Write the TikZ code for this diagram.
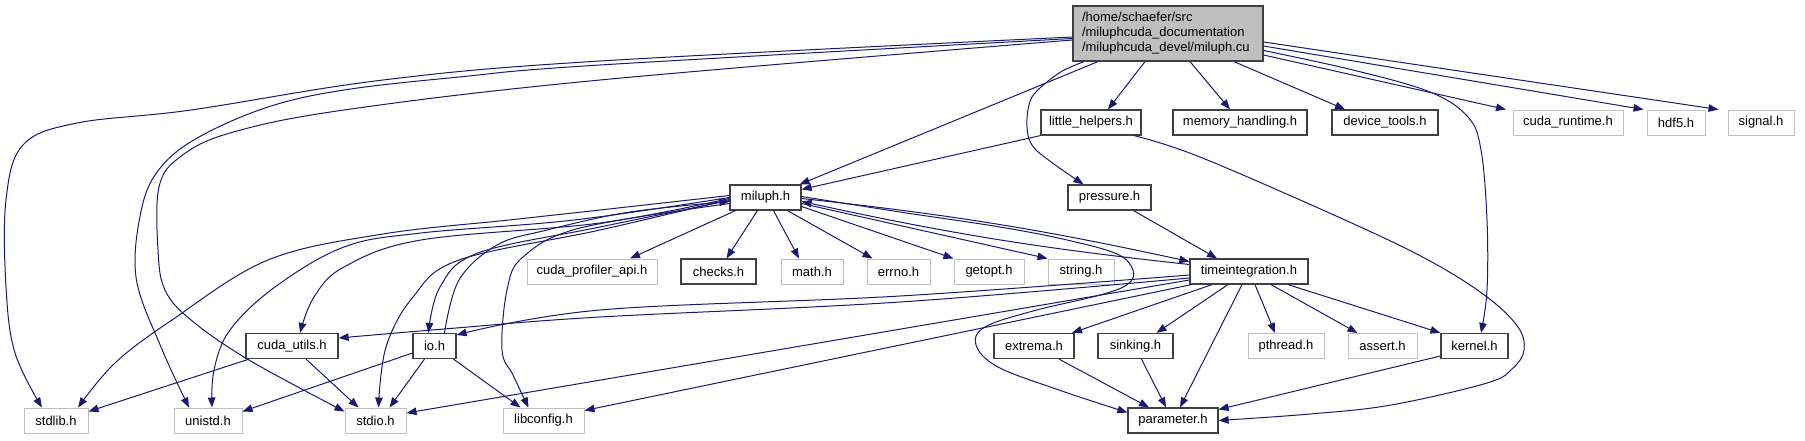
\documentclass[tikz,border=0pt]{standalone}
\usepackage{fontspec}
\setmainfont{Liberation Sans}
\usetikzlibrary{arrows.meta}
\definecolor{edgeblue}{HTML}{191970}
\definecolor{rootgray}{HTML}{BFBFBF}
\definecolor{boxline}{HTML}{404040}
\definecolor{sysline}{HTML}{C0C0C0}
\tikzset{
  hdr/.style={draw=boxline, line width=1.2pt, fill=white, minimum height=25pt, inner sep=0pt, font=\fontsize{13}{15}\selectfont},
  sysh/.style={hdr, draw=sysline, line width=1pt},
  inc/.style={-{Triangle[length=10pt,width=7.5pt]}, line width=1pt, draw=edgeblue},
}

\begin{document}
\begin{tikzpicture}[x=1pt, y=-1pt]
  \useasboundingbox (0,0) rectangle (1805,440);
  % source file
  \node[hdr, fill=rootgray, minimum width=190pt, minimum height=55pt, text width=172pt, inner xsep=9pt, align=left] (root) at (1168,33.5)
    {/home/schaefer/src\\/miluphcuda\_documentation\\/miluphcuda\_devel/miluph.cu};
  % first row
  \node[hdr, minimum width=100pt] (little) at (1091,122.5) {little\_helpers.h};
  \node[hdr, minimum width=134pt] (memory) at (1240,122.5) {memory\_handling.h};
  \node[hdr, minimum width=106pt] (device) at (1385,122.5) {device\_tools.h};
  \node[sysh, minimum width=110pt] (cudart) at (1568,122.5) {cuda\_runtime.h};
  \node[sysh, minimum width=58pt] (hdf) at (1676,122.5) {hdf5.h};
  \node[sysh, minimum width=66pt] (signal) at (1761,122.5) {signal.h};
  % second row
  \node[hdr, minimum width=71pt] (miluph) at (765.5,197.5) {miluph.h};
  \node[hdr, minimum width=83pt] (pressure) at (1109.5,197.5) {pressure.h};
  % third row
  \node[sysh, minimum width=130pt] (cudaprof) at (592,271.5) {cuda\_profiler\_api.h};
  \node[hdr, minimum width=75pt] (checks) at (718.5,271.5) {checks.h};
  \node[sysh, minimum width=62pt] (math) at (812,271.5) {math.h};
  \node[sysh, minimum width=63pt] (errno) at (898.5,271.5) {errno.h};
  \node[sysh, minimum width=70pt] (getopt) at (989,271.5) {getopt.h};
  \node[sysh, minimum width=66pt] (string) at (1081,271.5) {string.h};
  \node[hdr, minimum width=118pt] (timeint) at (1249,271.5) {timeintegration.h};
  % fourth row
  \node[hdr, minimum width=92pt] (cudautils) at (292,346) {cuda\_utils.h};
  \node[hdr, minimum width=43pt] (io) at (434.5,346) {io.h};
  \node[hdr, minimum width=80pt] (extrema) at (1034,346) {extrema.h};
  \node[hdr, minimum width=75pt] (sinking) at (1135.5,346) {sinking.h};
  \node[sysh, minimum width=76pt] (pthread) at (1286,346) {pthread.h};
  \node[sysh, minimum width=69pt] (assert) at (1382.5,346) {assert.h};
  \node[hdr, minimum width=67pt] (kernel) at (1474.5,346) {kernel.h};
  % bottom row
  \node[sysh, minimum width=64pt] (stdlib) at (56,420.5) {stdlib.h};
  \node[sysh, minimum width=68pt] (unistd) at (208,420.5) {unistd.h};
  \node[sysh, minimum width=61pt] (stdio) at (375.5,420.5) {stdio.h};
  \node[sysh, minimum width=81pt] (libconfig) at (543.5,420.5) {libconfig.h};
  \node[hdr, minimum width=90pt] (parameter) at (1173,420.5) {parameter.h};

  % includes of miluph.cu
  \draw[inc] plot[smooth, tension=0.6] coordinates {([yshift=-3.5pt]root.west) (600,61) (383,80) (191,110) (77,123) (23,145) (6,200) (6,287) (15,353) ([xshift=-14pt]stdlib.north)};
  \draw[inc] plot[smooth, tension=0.6] coordinates {([yshift=-5pt]root.west) (600,65) (459,77) (344,90) (268,107) (199,137) (161,167) (142,207) (136,277) (161,347) ([xshift=-19pt]unistd.north)};
  \draw[inc] plot[smooth, tension=0.6] coordinates {([yshift=-6.5pt]root.west) (600,80) (344,110) (230,133) (180,157) (159,187) (158,250) (165,290) (191,320) (249,360) ([yshift=9pt]stdio.west)};
  \draw[inc] ([xshift=-70pt]root.south) -- ([xshift=-2pt]miluph.north east);
  \draw[inc] plot[smooth] coordinates {([xshift=-84pt]root.south) (1059,73) (1032,97) (1027,127) (1036,150) ([xshift=-26pt]pressure.north)};
  \draw[inc] ([xshift=-23pt]root.south) -- ([xshift=17pt]little.north);
  \draw[inc] ([xshift=22pt]root.south) -- ([xshift=-10pt]memory.north);
  \draw[inc] ([xshift=66pt]root.south) -- ([xshift=-40pt]device.north);
  \draw[inc] ([yshift=-21.5pt]root.east) -- ([xshift=-62pt]cudart.north);
  \draw[inc] ([yshift=-12.5pt]root.east) -- ([xshift=-3pt]hdf.north west);
  \draw[inc] ([yshift=-8.5pt]root.east) -- ([xshift=-9pt]signal.north west);
  \draw[inc] plot[smooth, tension=0.6] coordinates {([yshift=-17pt]root.east) (1353,70) (1430,92) (1468,117) (1481,150) (1487,220) (1487,290) ([xshift=6.5pt]kernel.north)};

  % little_helpers.h and pressure.h
  \draw[inc] (little.south west) -- ([yshift=-5pt]miluph.north east);
  \draw[inc] plot[smooth, tension=0.6] coordinates {([xshift=43pt]little.south) (1200,157) (1345,220) (1430,261) (1487,297) (1518,327) (1524,350) (1513,368) (1487,383) (1391,405) (1310,414) (parameter.east)};
  \draw[inc] ([xshift=24pt]pressure.south) -- ([xshift=-32pt]timeint.north);

  % miluph.h
  \draw[inc] ([xshift=-30pt]miluph.south) -- ([xshift=38pt]cudaprof.north);
  \draw[inc] ([xshift=-8pt]miluph.south) -- ([xshift=8pt]checks.north);
  \draw[inc] ([xshift=8pt]miluph.south) -- ([xshift=-13pt]math.north);
  \draw[inc] ([xshift=22pt]miluph.south) -- ([xshift=-26pt]errno.north);
  \draw[inc] ([yshift=-9pt]miluph.east) -- (getopt.north west);
  \draw[inc] ([yshift=-6pt]miluph.east) -- (string.north west);
  \draw[inc] ([yshift=-1pt]miluph.east) to[bend left=3] ([yshift=10pt]timeint.west);
  \draw[inc] ([yshift=7pt]timeint.west) to[bend left=3] ([yshift=-4pt]miluph.east);
  \draw[inc] plot[smooth, tension=0.6] coordinates {([yshift=1pt]miluph.east) (900,212) (1000,227) (1067,240) (1117,254) (1133,270) (1128,284) (1100,295) (1033,311) (985,327) (976,345) (998,367) (1059,390) ([yshift=8pt]parameter.west)};
  \draw[inc] plot[smooth, tension=0.6] coordinates {([yshift=2pt]miluph.west) (600,210) (509,220) (383,234) (268,260) (172,320) (115,363) ([xshift=22pt]stdlib.north)};
  \draw[inc] plot[smooth, tension=0.6] coordinates {([yshift=0pt]miluph.west) (574,220) (421,233) (344,247) (275,287) (230,330) (214,370) ([xshift=4pt]unistd.north)};
  \draw[inc] plot[smooth, tension=0.6] coordinates {([yshift=-1pt]miluph.west) (600,223) (421,240) (344,267) (314,297) ([xshift=8pt]cudautils.north)};
  \draw[inc] plot[smooth, tension=0.6] coordinates {([yshift=-2pt]miluph.west) (600,230) (459,260) (413,297) (386,347) ([xshift=3pt]stdio.north)};
  \draw[inc] plot[smooth, tension=0.6] coordinates {([yshift=-3pt]miluph.west) (600,227) (478,253) (440,287) ([xshift=-6pt]io.north)};
  \draw[inc] plot[smooth, tension=0.6] coordinates {([yshift=-6pt]miluph.west) (580,228) (523,257) (507,290) (502,350) (513,375) ([xshift=-15pt]libconfig.north)};
  \draw[inc] plot[smooth, tension=0.6] coordinates {([xshift=10pt]io.north) (459,280) (497,245) (547,230) (630,212) ([yshift=-4pt]miluph.west)};

  % timeintegration.h
  \draw[inc] plot[smooth, tension=0.6] coordinates {([yshift=-3.5pt]timeint.west) (900,296) (600,310) ([yshift=11pt]io.east)};
  \draw[inc] plot[smooth, tension=0.6] coordinates {([yshift=-6.5pt]timeint.west) (900,302) (600,317) (456,328) ([yshift=8pt]cudautils.east)};
  \draw[inc] ([yshift=-8.5pt]timeint.west) -- ([yshift=7.5pt]stdio.east);
  \draw[inc] ([xshift=2pt]timeint.south west) -- ([yshift=10pt]libconfig.east);
  \draw[inc] ([xshift=-7pt]timeint.south) -- ([xshift=7pt]parameter.north);
  \draw[inc] ([xshift=-37pt]timeint.south) -- ([xshift=38pt]extrema.north);
  \draw[inc] ([xshift=-21pt]timeint.south) -- ([xshift=21pt]sinking.north);
  \draw[inc] ([xshift=6pt]timeint.south) -- ([xshift=-11pt]pthread.north);
  \draw[inc] ([xshift=22pt]timeint.south) -- ([xshift=-25pt]assert.north);
  \draw[inc] ([xshift=39pt]timeint.south) -- (kernel.north west);

  % lower headers
  \draw[inc] ([xshift=-43pt]cudautils.south) -- ([yshift=9pt]stdlib.east);
  \draw[inc] ([xshift=14pt]cudautils.south) -- ([xshift=-17pt]stdio.north);
  \draw[inc] ([yshift=-7pt]io.west) -- ([yshift=9pt]unistd.east);
  \draw[inc] ([xshift=-10pt]io.south) -- ([xshift=14pt]stdio.north);
  \draw[inc] ([xshift=19pt]io.south) -- ([xshift=-23pt]libconfig.north);
  \draw[inc] ([xshift=25pt]extrema.south) -- ([xshift=-24pt]parameter.north);
  \draw[inc] ([xshift=6pt]sinking.south) -- ([xshift=-7pt]parameter.north);
  \draw[inc] ([yshift=-10pt]kernel.west) -- ([yshift=11pt]parameter.east);
\end{tikzpicture}
\end{document}
